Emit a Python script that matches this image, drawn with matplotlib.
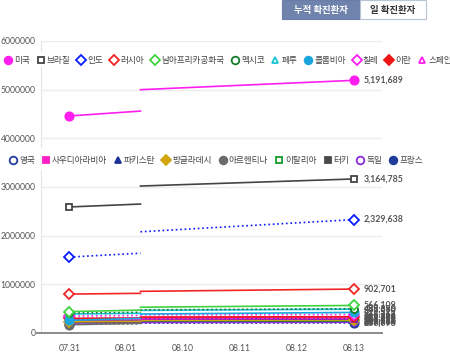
import matplotlib
matplotlib.use("Agg")
import matplotlib.pyplot as plt
from matplotlib.lines import Line2D
from matplotlib.patches import Rectangle

plt.rcParams["font.family"] = ["Lato", "Noto Sans CJK KR", "DejaVu Sans"]

W, H = 450, 356

# categories on the x axis
dates = ["07.31", "08.01", "08.10", "08.11", "08.12", "08.13"]

countries = [
    "미국", "브라질", "인도", "러시아", "남아프리카공화국", "멕시코", "페루", "콜롬비아",
    "칠레", "이란", "스페인",
    "영국", "사우디아라비아", "파키스탄", "방글라데시", "아르헨티나", "이탈리아", "터키",
    "독일", "프랑스",
]
row1_count = 11

# values: first point (07.31), end of first segment,
# start of second segment, last point (08.13)
v_start = [4460000, 2590000, 1560000, 800000, 440000, 410000, 390000, 260000,
           350000, 300000, 290000,
           300000, 272000, 276000, 232000, 170000, 246000, 228000, 206000, 185000]
v_seg1_end = [4560000, 2650000, 1640000, 815000, 470000, 425000, 405000, 300000,
              360000, 306000, 300000,
              305000, 276000, 279000, 240000, 200000, 248000, 231000, 210000, 190000]
v_seg2_start = [5000000, 3020000, 2080000, 856000, 530000, 475000, 465000, 390000,
                373000, 326000, 320000,
                311000, 291000, 284000, 262000, 250000, 250000, 242000, 216000, 202000]
v_end = [5191689, 3164785, 2329638, 902701, 566109, 498380, 489680, 422519,
         378168, 333699, 329784,
         313798, 294519, 285191, 266498, 268574, 251713, 245635, 219964, 206696]

# style per series: colour, marker, filled, linestyle
styles = [
    ("#ff1ef0", "o", True, "-"),
    ("#444444", "s", False, "-"),
    ("#0a1cff", "D", False, ":"),
    ("#f22525", "D", False, "-"),
    ("#3fd23f", "D", False, "-"),
    ("#137a2a", "o", False, ":"),
    ("#18c4d4", "^", False, "-"),
    ("#1aa5dc", "o", True, "-"),
    ("#ff1ef0", "D", False, ":"),
    ("#ee1515", "D", True, "-"),
    ("#ff1ef0", "^", False, "-"),
    ("#203c9c", "o", False, ":"),
    ("#ff1ec8", "s", True, "-"),
    ("#1c2f96", "^", True, "-"),
    ("#d1a40a", "D", True, "-"),
    ("#6a6a6a", "o", True, "-"),
    ("#169a2b", "s", False, "-"),
    ("#4a4a4a", "s", True, "-"),
    ("#8a2be2", "o", False, "-"),
    ("#1f3c9a", "o", True, ":"),
]

BREAK = 1.25  # where the drawn line jumps

fig = plt.figure(figsize=(W / 100, H / 100), dpi=100)
ax = fig.add_axes([41 / W, 1 - 333 / H, (382 - 41) / W, (333 - 41) / H])

ax.set_xlim(-0.5, 5.5)
ax.set_ylim(0, 6000000)
ax.set_xticks(range(len(dates)))
ax.set_xticklabels(dates)
ax.set_yticks([0, 1000000, 2000000, 3000000, 4000000, 5000000, 6000000])
ax.set_yticklabels([str(v) for v in ax.get_yticks().astype(int)])
ax.tick_params(axis="both", length=0, labelsize=6.2, colors="#555555")
ax.tick_params(axis="y", pad=4)
ax.tick_params(axis="x", pad=8)
ax.grid(axis="y", color="#ececec", linewidth=1)
ax.set_axisbelow(True)
for s in ["top", "right", "bottom"]:
    ax.spines[s].set_visible(False)
ax.spines["left"].set_color("#e4e4e4")
ax.plot([-0.012, 1], [0, 0], transform=ax.transAxes, color="#8a8a8a",
        linewidth=1.4, clip_on=False, zorder=5)

n = len(countries)
for i in reversed(range(n)):
    color, mk, filled, ls = styles[i]
    z = 3 + (n - i) * 0.01
    ax.plot([0, BREAK], [v_start[i], v_seg1_end[i]], color=color, linestyle=ls,
            linewidth=1.2, zorder=z)
    ax.plot([BREAK, 5], [v_seg2_start[i], v_end[i]], color=color, linestyle=ls,
            linewidth=1.2, zorder=z)
    ax.plot([0, 5], [v_start[i], v_end[i]], linestyle="none", marker=mk,
            markersize=5 if mk != "o" or not filled else 6,
            markerfacecolor=color if filled else "white",
            markeredgecolor=color, markeredgewidth=1.3, zorder=z + 0.5)
    ax.annotate(f"{v_end[i]:,}", (5, v_end[i]), xytext=(10, 0),
                textcoords="offset pixels", va="center", ha="left",
                fontsize=6.3, fontweight="bold", color="#555555", zorder=z)

# legend rows, drawn by hand on white bands
fig.canvas.draw()
renderer = fig.canvas.get_renderer()


def legend_row(items, x0, y_px, band_top, band_bottom):
    fig.add_artist(Rectangle((0, 1 - band_bottom / H), 1, (band_bottom - band_top) / H,
                             transform=fig.transFigure, facecolor="white",
                             edgecolor="none", zorder=10))
    cur = x0
    for i in items:
        color, mk, filled, _ = styles[i]
        fig.add_artist(Line2D([(cur + 3) / W], [1 - y_px / H], marker=mk,
                              markersize=5 if mk != "o" else 5.5,
                              markerfacecolor=color if filled else "white",
                              markeredgecolor=color, markeredgewidth=1.3,
                              transform=fig.transFigure, zorder=11))
        t = fig.text((cur + 9) / W, 1 - y_px / H, countries[i], fontsize=6.2,
                     color="#444444", va="center", ha="left", zorder=11,
                     family=["Noto Sans CJK KR", "DejaVu Sans"])
        bb = t.get_window_extent(renderer)
        cur = bb.x1 + 8


legend_row(range(0, row1_count), 5, 60, 52, 67)
legend_row(range(row1_count, n), 10, 160, 148, 170)

# toggle buttons
fig.add_artist(Rectangle((282 / W, 1 - 19 / H), 78 / W, 19 / H, transform=fig.transFigure,
                         facecolor="#7083ad", edgecolor="#6a7da8", linewidth=0.8, zorder=12))
fig.add_artist(Rectangle((360 / W, 1 - 19 / H), 66 / W, 19 / H, transform=fig.transFigure,
                         facecolor="white", edgecolor="#b9c3d8", linewidth=0.8, zorder=12))
fig.text(321 / W, 1 - 9.5 / H, "누적 확진환자", color="white", fontsize=6.8, fontweight="bold",
         ha="center", va="center", zorder=13, family=["Noto Sans CJK KR", "DejaVu Sans"])
fig.text(393 / W, 1 - 9.5 / H, "일 확진환자", color="#333333", fontsize=6.8, fontweight="bold",
         ha="center", va="center", zorder=13, family=["Noto Sans CJK KR", "DejaVu Sans"])

fig.savefig("out.png", dpi=100)
